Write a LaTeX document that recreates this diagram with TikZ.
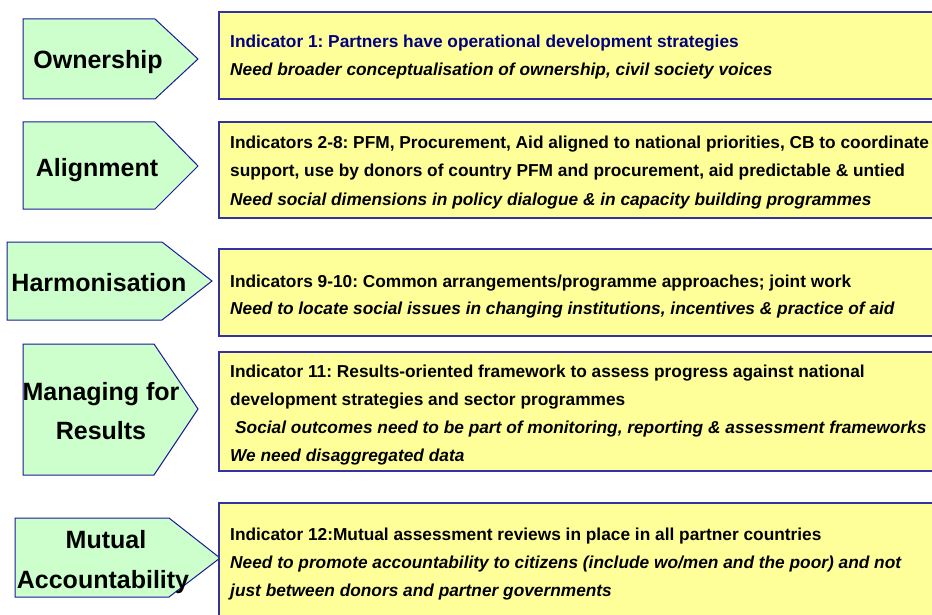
\documentclass[tikz,border=0pt]{standalone}
\usepackage{fontspec}
\setmainfont{Liberation Sans}
\frenchspacing
\definecolor{lblfill}{HTML}{CCFFCC}
\definecolor{lblline}{HTML}{1A1A99}
\definecolor{boxfill}{HTML}{FFFF99}
\definecolor{boxline}{HTML}{3333A0}
\definecolor{navytext}{HTML}{000080}
\tikzset{
  pent/.style={fill=lblfill, draw=lblline, line width=1pt, line join=miter},
  infobox/.style={fill=boxfill, draw=boxline, line width=1.2pt},
  lbl/.style={anchor=base, inner sep=0pt, font=\fontsize{25}{30}\selectfont\bfseries},
  ind/.style={anchor=base west, inner sep=0pt, font=\fontsize{17.3}{20}\selectfont\bfseries},
  need/.style={anchor=base west, inner sep=0pt, font=\fontsize{17.3}{20}\selectfont\bfseries\itshape}
}
\begin{document}
\begin{tikzpicture}[x=1pt,y=-1pt]
\useasboundingbox (0,0) rectangle (932,615);
\clip (0,0) rectangle (932,615);

% ---- pentagons ----
\draw[pent] (23,19) -- (155,19) -- (198,59) -- (155,99) -- (23,99) -- cycle;
\draw[pent] (23,122) -- (155,122) -- (198,166) -- (155,209) -- (23,209) -- cycle;
\draw[pent] (7,242) -- (162,242) -- (212,281) -- (162,320) -- (7,320) -- cycle;
\draw[pent] (23,344) -- (154,344) -- (198,409) -- (154,475) -- (23,475) -- cycle;
\draw[pent] (15,518) -- (169,518) -- (220,558) -- (169,597) -- (15,597) -- cycle;

% ---- labels ----
\node[lbl] (l1) at (98,69) {Ownership};
\node[lbl] (l2) at (97,176) {Alignment};
\node[lbl] (l3) at (99,291) {Harmonisation};
\node[lbl] (l4a) at (101,400) {Managing for};
\node[lbl] (l4b) at (101,439) {Results};
\node[lbl] (l5a) at (106,548) {Mutual};
\node[lbl] (l5b) at (103,588) {Accountability};

% ---- yellow boxes ----
\draw[infobox] (219,12) rectangle (945,99);
\draw[infobox] (219,122) rectangle (945,218);
\draw[infobox] (219,249) rectangle (945,336);
\draw[infobox] (219,352) rectangle (945,471);
\draw[infobox] (219,503) rectangle (945,630);

% ---- box texts ----
\node[ind, text=navytext] (t1a) at (230,48) {Indicator 1: Partners have operational development strategies};
\node[need] (t1b) at (230,76) {Need broader conceptualisation of ownership, civil society voices};

\node[ind] (t2a) at (230,149) {Indicators 2-8: PFM, Procurement, Aid aligned to national priorities, CB to coordinate};
\node[ind] (t2b) at (230,177) {support, use by donors of country PFM and procurement, aid predictable \& untied};
\node[need] (t2c) at (230,205) {Need social dimensions in policy dialogue \& in capacity building programmes};

\node[ind] (t3a) at (230,287) {Indicators 9-10: Common arrangements/programme approaches; joint work};
\node[need] (t3b) at (230,314) {Need to locate social issues in changing institutions, incentives \& practice of aid};

\node[ind] (t4a) at (230,377) {Indicator 11: Results-oriented framework to assess progress against national};
\node[ind] (t4b) at (230,405) {development strategies and sector programmes};
\node[need] (t4c) at (235,433) {Social outcomes need to be part of monitoring, reporting \& assessment frameworks};
\node[need] (t4d) at (230,461) {We need disaggregated data};

\node[ind] (t5a) at (230,540) {Indicator 12:Mutual assessment reviews in place in all partner countries};
\node[need] (t5b) at (230,568) {Need to promote accountability to citizens (include wo/men and the poor) and not};
\node[need] (t5c) at (230,596) {just between donors and partner governments};
\end{tikzpicture}
\end{document}
